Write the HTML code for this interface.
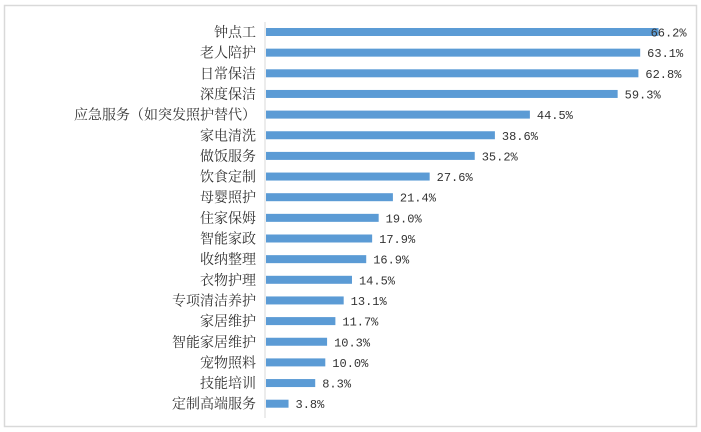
<!DOCTYPE html>
<html><head><meta charset="utf-8"><style>
body{margin:0;background:#fff}
svg{display:block}
.l{font-family:"Liberation Serif","Noto Serif CJK SC",serif;font-size:14px;fill:#333;text-anchor:end}
.v{font-family:"Liberation Mono","Noto Serif CJK SC",monospace;font-size:12px;fill:#333}
</style></head><body>
<svg width="701" height="432" xmlns="http://www.w3.org/2000/svg">
<rect x="4.5" y="5.5" width="692" height="421" fill="#fff" stroke="#d9d9d9" stroke-width="1.5"/>
<line x1="265" y1="22" x2="265" y2="418" stroke="#d9d9d9" stroke-width="1"/>
<g id="g"></g>
</svg>
<script>
var d=[["钟点工",66.2],["老人陪护",63.1],["日常保洁",62.8],["深度保洁",59.3],["应急服务（如突发照护替代）",44.5],["家电清洗",38.6],["做饭服务",35.2],["饮食定制",27.6],["母婴照护",21.4],["住家保姆",19.0],["智能家政",17.9],["收纳整理",16.9],["衣物护理",14.5],["专项清洁养护",13.1],["家居维护",11.7],["智能家居维护",10.3],["宠物照料",10.0],["技能培训",8.3],["定制高端服务",3.8]];
var s="";
d.forEach(function(r,i){var c=32+i*20.65;var w=r[1]*5.93;
s+='<rect x="266" y="'+(c-4)+'" width="'+w+'" height="8" fill="#5b9bd5"/>';
s+='<text class="l" x="256" y="'+(c+5)+'">'+r[0]+'</text>';
s+='<text class="v" x="'+(266+w+(i==0?-8:7))+'" y="'+(c+4.5)+'">'+r[1].toFixed(1)+'%</text>';});
document.getElementById("g").innerHTML=s;
</script>
</body></html>
